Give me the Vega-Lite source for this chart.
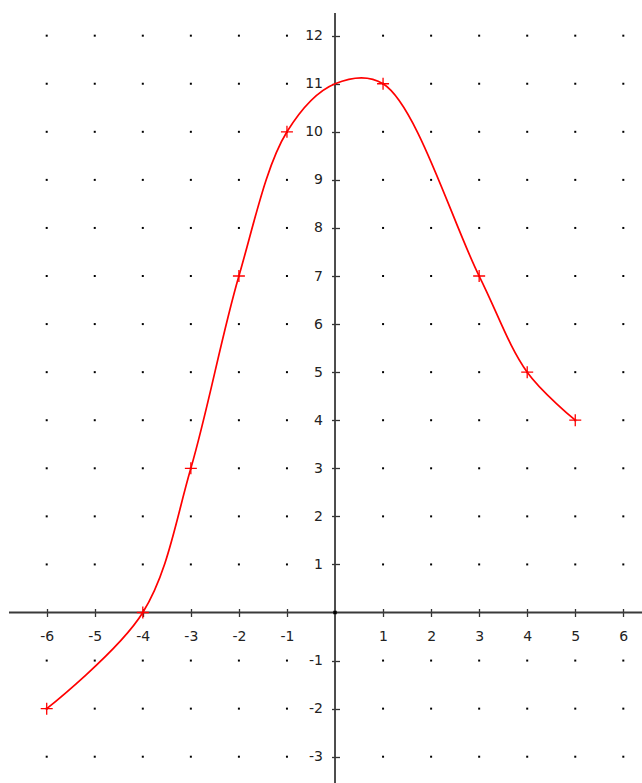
{
  "$schema": "https://vega.github.io/schema/vega-lite/v6.json",
  "width": 642,
  "height": 783,
  "padding": 0,
  "autosize": "none",
  "background": "white",
  "config": {"view": {"stroke": null}},
  "datasets": {
    "grid": [
      {"gx": -6, "gys": [-3,-2,-1,1,2,3,4,5,6,7,8,9,10,11,12]},
      {"gx": -5, "gys": [-3,-2,-1,1,2,3,4,5,6,7,8,9,10,11,12]},
      {"gx": -4, "gys": [-3,-2,-1,1,2,3,4,5,6,7,8,9,10,11,12]},
      {"gx": -3, "gys": [-3,-2,-1,1,2,3,4,5,6,7,8,9,10,11,12]},
      {"gx": -2, "gys": [-3,-2,-1,1,2,3,4,5,6,7,8,9,10,11,12]},
      {"gx": -1, "gys": [-3,-2,-1,1,2,3,4,5,6,7,8,9,10,11,12]},
      {"gx": 1, "gys": [-3,-2,-1,1,2,3,4,5,6,7,8,9,10,11,12]},
      {"gx": 2, "gys": [-3,-2,-1,1,2,3,4,5,6,7,8,9,10,11,12]},
      {"gx": 3, "gys": [-3,-2,-1,1,2,3,4,5,6,7,8,9,10,11,12]},
      {"gx": 4, "gys": [-3,-2,-1,1,2,3,4,5,6,7,8,9,10,11,12]},
      {"gx": 5, "gys": [-3,-2,-1,1,2,3,4,5,6,7,8,9,10,11,12]},
      {"gx": 6, "gys": [-3,-2,-1,1,2,3,4,5,6,7,8,9,10,11,12]}
    ],
    "axislines": [
      {"ax1": -6.785, "ax2": 6.389, "ay1": 0, "ay2": 0},
      {"ax1": 0, "ax2": 0, "ay1": -3.547, "ay2": 12.47}
    ],
    "curve": [
      {"x": -6, "y": -2},
      {"x": -4, "y": 0},
      {"x": -3, "y": 3},
      {"x": -2, "y": 7},
      {"x": -1, "y": 10},
      {"x": 0, "y": 11},
      {"x": 1, "y": 11},
      {"x": 3, "y": 7},
      {"x": 4, "y": 5},
      {"x": 5, "y": 4}
    ],
    "pts": [
      {"x": -6, "y": -2},
      {"x": -4, "y": 0},
      {"x": -3, "y": 3},
      {"x": -2, "y": 7},
      {"x": -1, "y": 10},
      {"x": 1, "y": 11},
      {"x": 3, "y": 7},
      {"x": 4, "y": 5},
      {"x": 5, "y": 4}
    ],
    "origin": [{"x": 0, "y": 0}]
  },
  "layer": [
    {
      "data": {"name": "grid"},
      "transform": [{"flatten": ["gys"]}],
      "mark": {"type": "point", "shape": "square", "filled": true, "size": 4, "color": "black", "opacity": 1},
      "encoding": {
        "x": {
          "field": "gx", "type": "quantitative",
          "scale": {"domain": [-6.972, 6.389], "nice": false, "zero": false},
          "axis": {
            "orient": "bottom", "offset": -174.5, "title": null,
            "values": [-6,-5,-4,-3,-2,-1,1,2,3,4,5,6],
            "domain": false, "grid": false,
            "tickSize": 8, "tickColor": "#333", "tickWidth": 1.3,
            "labelPadding": 13, "labelFont": "DejaVu Sans", "labelFontSize": 14,
            "labelColor": "#222", "labelExpr": "'' + datum.value",
            "labelFlush": false, "labelOverlap": false
          }
        },
        "y": {
          "field": "gys", "type": "quantitative",
          "scale": {"domain": [-3.547, 12.742], "nice": false, "zero": false},
          "axis": {
            "orient": "left", "offset": -339.5, "title": null,
            "values": [-3,-2,-1,1,2,3,4,5,6,7,8,9,10,11,12],
            "domain": false, "grid": false,
            "tickSize": 8, "tickColor": "#333", "tickWidth": 1.3,
            "labelPadding": 9, "labelFont": "DejaVu Sans", "labelFontSize": 14,
            "labelColor": "#222", "labelExpr": "'' + datum.value",
            "labelFlush": false, "labelOverlap": false
          }
        }
      }
    },
    {
      "data": {"name": "axislines"},
      "mark": {"type": "rule", "color": "#3a3a3a", "strokeWidth": 1.8},
      "encoding": {
        "x": {"field": "ax1", "type": "quantitative"},
        "x2": {"field": "ax2"},
        "y": {"field": "ay1", "type": "quantitative"},
        "y2": {"field": "ay2"}
      }
    },
    {
      "data": {"name": "curve"},
      "mark": {"type": "line", "interpolate": "catmull-rom", "color": "#ff0000", "strokeWidth": 1.7},
      "encoding": {
        "x": {"field": "x", "type": "quantitative"},
        "y": {"field": "y", "type": "quantitative"}
      }
    },
    {
      "data": {"name": "pts"},
      "mark": {"type": "point", "shape": "M-1,0L1,0M0,-1L0,1", "filled": false, "size": 144, "stroke": "#ff0000", "strokeWidth": 1.3, "opacity": 1},
      "encoding": {
        "x": {"field": "x", "type": "quantitative"},
        "y": {"field": "y", "type": "quantitative"}
      }
    },
    {
      "data": {"name": "origin"},
      "mark": {"type": "point", "shape": "square", "filled": true, "size": 12, "color": "black", "opacity": 1},
      "encoding": {
        "x": {"field": "x", "type": "quantitative"},
        "y": {"field": "y", "type": "quantitative"}
      }
    }
  ]
}
